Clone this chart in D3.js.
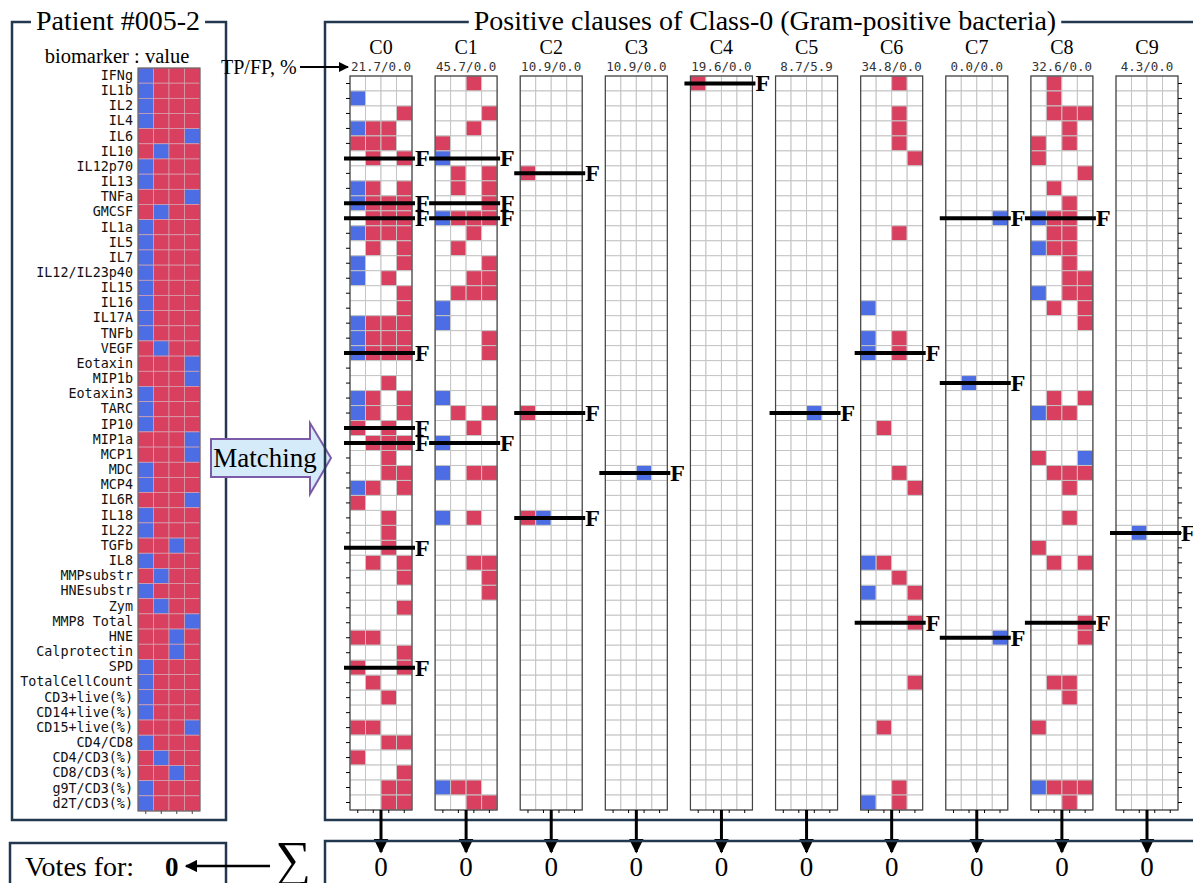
<!DOCTYPE html>
<html lang="en">
<head>
<meta charset="utf-8">
<script src="https://cdn.jsdelivr.net/npm/d3@7"></script>
<style>
  body { margin: 0; background: #fff; }
  svg { display: block; }
</style>
</head>
<body>
<script>
// ---- data ----
var biomarkers = ["IFNg", "IL1b", "IL2", "IL4", "IL6", "IL10", "IL12p70", "IL13", "TNFa", "GMCSF",
  "IL1a", "IL5", "IL7", "IL12/IL23p40", "IL15", "IL16", "IL17A", "TNFb", "VEGF", "Eotaxin",
  "MIP1b", "Eotaxin3", "TARC", "IP10", "MIP1a", "MCP1", "MDC", "MCP4", "IL6R", "IL18",
  "IL22", "TGFb", "IL8", "MMPsubstr", "HNEsubstr", "Zym", "MMP8 Total", "HNE", "Calprotectin", "SPD",
  "TotalCellCount", "CD3+live(%)", "CD14+live(%)", "CD15+live(%)", "CD4/CD8", "CD4/CD3(%)", "CD8/CD3(%)", "g9T/CD3(%)", "d2T/CD3(%)"];

// quartile bin (0..3) of the patient's value for every biomarker
var patientBins = [0, 0, 0, 0, 3, 1, 0, 0, 3, 1,
  0, 0, 0, 0, 0, 0, 0, 0, 1, 3,
  3, 0, 0, 0, 3, 3, 0, 0, 3, 0,
  0, 2, 0, 1, 0, 1, 3, 2, 2, 0,
  0, 0, 0, 3, 0, 1, 2, 0, 0];

var bins = [0, 1, 2, 3];
var clauseNames = ["C0", "C1", "C2", "C3", "C4", "C5", "C6", "C7", "C8", "C9"];
var tpfp = ["21.7/0.0", "45.7/0.0", "10.9/0.0", "10.9/0.0", "19.6/0.0", "8.7/5.9", "34.8/0.0", "0.0/0.0", "32.6/0.0", "4.3/0.0"];
var clauseVotes = [0, 0, 0, 0, 0, 0, 0, 0, 0, 0];
var votesFor = 0;

// clause literals: "b" = value in bin, "r" = value not in bin
var clauseC0 = [["IL1b", "b..."], ["IL2", "...r"], ["IL4", "brr."], ["IL6", "rrr."], ["IL10", ".r.r"],
  ["IL13", "br.r"], ["TNFa", "brrr"], ["GMCSF", ".rrr"], ["IL1a", "brrr"], ["IL5", ".r.r"],
  ["IL7", "b..r"], ["IL12/IL23p40", "b.r."], ["IL15", "...r"], ["IL16", "...r"], ["IL17A", "brrr"],
  ["TNFb", "brrr"], ["VEGF", "brrr"], ["MIP1b", "..r."], ["Eotaxin3", "br.r"], ["TARC", "br.r"],
  ["IP10", "r.r."], ["MIP1a", ".rrr"], ["MCP1", "..r."], ["MDC", "..rr"], ["MCP4", "br.r"],
  ["IL6R", "r..."], ["IL18", "..r."], ["IL22", "..r."], ["TGFb", "..r."], ["IL8", ".r.r"],
  ["MMPsubstr", "...r"], ["Zym", "...r"], ["HNE", "rr.."], ["Calprotectin", "...r"], ["SPD", "r..r"],
  ["TotalCellCount", ".r.."], ["CD3+live(%)", "..r."], ["CD15+live(%)", "rr.."], ["CD4/CD8", "..rr"],
  ["CD4/CD3(%)", "r..."], ["CD8/CD3(%)", "...r"], ["g9T/CD3(%)", "..rr"], ["d2T/CD3(%)", "..rr"]];
var clauseC1 = [["IFNg", "..r."], ["IL2", "...r"], ["IL4", "..r."], ["IL6", "r..."], ["IL10", "b..."],
  ["IL12p70", ".r.r"], ["IL13", ".r.r"], ["TNFa", "...r"], ["GMCSF", "brrr"], ["IL1a", "..r."],
  ["IL5", ".r.."], ["IL7", "...r"], ["IL12/IL23p40", "..rr"], ["IL15", ".rrr"], ["IL16", "b..."],
  ["IL17A", "b..."], ["TNFb", "...r"], ["VEGF", "...r"], ["Eotaxin3", "b..."], ["TARC", ".r.r"],
  ["IP10", "..r."], ["MIP1a", "b..."], ["MDC", "b.rr"], ["IL18", "b.r."], ["IL8", "..rr"],
  ["MMPsubstr", "...r"], ["HNEsubstr", "...r"], ["g9T/CD3(%)", "brr."], ["d2T/CD3(%)", "..rr"]];
var clauseC2 = [["IL12p70", "r..."], ["TARC", "r..."], ["IL18", "rb.."]];
var clauseC3 = [["MDC", "..b."]];
var clauseC4 = [["IFNg", "r..."]];
var clauseC5 = [["TARC", "..b."]];
var clauseC6 = [["IFNg", "..r."], ["IL2", "..r."], ["IL4", "..r."], ["IL6", "..r."], ["IL10", "...r"],
  ["IL1a", "..r."], ["IL16", "b..."], ["TNFb", "b.r."], ["VEGF", "b.r."], ["IP10", ".r.."],
  ["MDC", "..r."], ["MCP4", "...r"], ["IL8", "br.."], ["MMPsubstr", "..r."], ["HNEsubstr", "b..r"],
  ["MMP8 Total", "...r"], ["TotalCellCount", "...r"], ["CD15+live(%)", ".r.."], ["g9T/CD3(%)", "..r."],
  ["d2T/CD3(%)", "b.r."]];
var clauseC7 = [["GMCSF", "...b"], ["MIP1b", ".b.."], ["HNE", "...b"]];
var clauseC8 = [["IFNg", ".r.."], ["IL1b", ".r.."], ["IL2", ".rrr"], ["IL4", "..r."], ["IL6", "r.r."],
  ["IL10", "r..."], ["IL12p70", "...r"], ["IL13", ".r.."], ["TNFa", "..r."], ["GMCSF", "brr."],
  ["IL1a", ".rr."], ["IL5", "brr."], ["IL7", "..r."], ["IL12/IL23p40", "..rr"], ["IL15", "b.rr"],
  ["IL16", ".r.r"], ["IL17A", "...r"], ["Eotaxin3", ".r.r"], ["TARC", "brr."], ["MCP1", "r..b"],
  ["MDC", ".rrr"], ["MCP4", "..r."], ["IL18", "..r."], ["TGFb", "r..."], ["IL8", ".r.r"],
  ["MMP8 Total", "...r"], ["HNE", "...r"], ["TotalCellCount", ".rr."], ["CD3+live(%)", "..r."],
  ["CD15+live(%)", "r..."], ["g9T/CD3(%)", "brrr"], ["d2T/CD3(%)", "..r."]];
var clauseC9 = [["IL22", ".b.."]];
var clauses = [clauseC0, clauseC1, clauseC2, clauseC3, clauseC4, clauseC5, clauseC6, clauseC7, clauseC8, clauseC9];

// rows marked "F" (literal not satisfied by the patient)
var failedRows = [
  ["IL10", "TNFa", "GMCSF", "VEGF", "IP10", "MIP1a", "TGFb", "SPD"],
  ["IL10", "TNFa", "GMCSF", "MIP1a"],
  ["IL12p70", "TARC", "IL18"],
  ["MDC"],
  ["IFNg"],
  ["TARC"],
  ["VEGF", "MMP8 Total"],
  ["GMCSF", "MIP1b", "HNE"],
  ["GMCSF", "MMP8 Total"],
  ["IL22"]];

// ---- drawing ----
var W = 1193, H = 883;
var RED = "#d9405f", BLUE = "#4c6de3", FRAME = "#22384f";
var SERIF = "'Liberation Serif', 'Times New Roman', serif";
var MONO = "'DejaVu Sans Mono', monospace";

var svg = d3.select("body").append("svg")
    .attr("width", W)
    .attr("height", H)
    .style("background", "#fff");

svg.append("defs").append("marker")
    .attr("id", "head")
    .attr("viewBox", "0 0 10 10")
    .attr("refX", 9).attr("refY", 5)
    .attr("markerWidth", 5).attr("markerHeight", 5)
    .attr("markerUnits", "strokeWidth")
    .attr("orient", "auto")
  .append("path").attr("d", "M0,0L10,5L0,10z").attr("fill", "#000");

// frame with a title sitting in its top edge
function titledBox(x, y, w, h, title, tx, size) {
  svg.append("rect")
      .attr("x", x).attr("y", y).attr("width", w).attr("height", h)
      .attr("fill", "none").attr("stroke", FRAME).attr("stroke-width", 2.5);
  if (!title) return;
  var bg = svg.append("rect").attr("fill", "#fff");
  var t = svg.append("text")
      .attr("x", tx).attr("y", y + 8)
      .attr("text-anchor", "middle")
      .style("font-family", SERIF).style("font-size", size + "px")
      .text(title);
  var bb = t.node().getBBox();
  bg.attr("x", bb.x - 5).attr("y", y - 3).attr("width", bb.width + 10).attr("height", 6);
}

// ----- patient panel -----
titledBox(12, 22, 214, 798, "Patient #005-2", 118, 28);
svg.append("text")
    .attr("x", 117).attr("y", 63)
    .attr("text-anchor", "middle")
    .style("font-family", SERIF).style("font-size", "20.5px")
    .text("biomarker : value");

var yL = d3.scaleBand().domain(biomarkers).range([68, 811]);
var xL = d3.scaleBand().domain(bins).range([138, 200]);

var pCells = [];
biomarkers.forEach(function (b, i) {
  bins.forEach(function (c) { pCells.push({ b: b, c: c, hit: patientBins[i] === c }); });
});
var gL = svg.append("g");
gL.selectAll("rect").data(pCells).enter().append("rect")
    .attr("x", function (d) { return xL(d.c); })
    .attr("y", function (d) { return yL(d.b); })
    .attr("width", xL.bandwidth())
    .attr("height", yL.bandwidth())
    .attr("fill", function (d) { return d.hit ? BLUE : RED; })
    .attr("stroke", "#d6a3b0").attr("stroke-width", 0.7);
gL.append("rect")
    .attr("x", 138).attr("y", 68).attr("width", 62).attr("height", 743)
    .attr("fill", "none").attr("stroke", "#555").attr("stroke-width", 1);

var axL = svg.append("g").attr("transform", "translate(138,0)")
    .call(d3.axisLeft(yL).tickSize(0).tickPadding(5));
axL.select(".domain").remove();
axL.selectAll("text").style("font-family", MONO).style("font-size", "13.4px").attr("fill", "#111");
var axLb = svg.append("g").attr("transform", "translate(0,811)")
    .call(d3.axisBottom(xL).tickSize(3).tickFormat(""));
axLb.select(".domain").remove();
axLb.selectAll("line").attr("stroke", "#444");

// ----- matching arrow -----
svg.append("path")
    .attr("d", "M211,439L310,439L310,423L331,458L310,494L310,477L211,477Z")
    .attr("fill", "#d5ebfa").attr("stroke", "#7b5aa8").attr("stroke-width", 2);
svg.append("text")
    .attr("x", 265).attr("y", 467)
    .attr("text-anchor", "middle")
    .style("font-family", SERIF).style("font-size", "27px")
    .text("Matching");

// ----- clauses panel -----
titledBox(325, 22, 900, 798, "Positive clauses of Class-0 (Gram-positive bacteria)", 765, 28);

svg.append("text")
    .attr("x", 221).attr("y", 74)
    .style("font-family", SERIF).style("font-size", "20px")
    .text("TP/FP, %");
svg.append("line")
    .attr("x1", 300).attr("y1", 67).attr("x2", 348).attr("y2", 67)
    .attr("stroke", "#000").attr("stroke-width", 2)
    .attr("marker-end", "url(#head)");

var xClause = d3.scalePoint().domain(clauseNames).range([350, 1116]);
var yC = d3.scaleBand().domain(biomarkers).range([76, 810]);
var CW = 62;

clauseNames.forEach(function (name, k) {
  var gx = xClause(name);
  var xC = d3.scaleBand().domain(bins).range([gx, gx + CW]);
  var lits = new Map(clauses[k]);
  var cells = [];
  biomarkers.forEach(function (b) {
    var p = lits.get(b) || "....";
    bins.forEach(function (c) { cells.push({ b: b, c: c, v: p[c] }); });
  });

  var g = svg.append("g");
  g.selectAll("rect.cell").data(cells).enter().append("rect")
      .attr("class", "cell")
      .attr("x", function (d) { return xC(d.c); })
      .attr("y", function (d) { return yC(d.b); })
      .attr("width", xC.bandwidth())
      .attr("height", yC.bandwidth())
      .attr("fill", function (d) { return d.v === "r" ? RED : d.v === "b" ? BLUE : "#fff"; })
      .attr("stroke", "#c4c4c4").attr("stroke-width", 1);
  g.append("rect")
      .attr("x", gx).attr("y", 76).attr("width", CW).attr("height", 734)
      .attr("fill", "none").attr("stroke", "#444").attr("stroke-width", 1.2);

  var axb = g.append("g").attr("transform", "translate(0,810)")
      .call(d3.axisBottom(xC).tickSize(3).tickFormat(""));
  axb.select(".domain").remove();
  if (k === 0 || k === clauseNames.length - 1) {
    var side = k === 0 ? d3.axisLeft(yC) : d3.axisRight(yC);
    var axs = g.append("g").attr("transform", "translate(" + (k === 0 ? gx : gx + CW) + ",0)")
        .call(side.tickSize(4).tickFormat(""));
    axs.select(".domain").remove();
  }

  g.append("text")
      .attr("x", gx + CW / 2).attr("y", 54)
      .attr("text-anchor", "middle")
      .style("font-family", SERIF).style("font-size", "20px")
      .text(name);
  g.append("text")
      .attr("x", gx + CW / 2).attr("y", 71)
      .attr("text-anchor", "middle")
      .style("font-family", MONO).style("font-size", "12.5px").attr("fill", "#333")
      .text(tpfp[k]);

  // failed literals
  failedRows[k].forEach(function (b) {
    var yy = yC(b) + yC.bandwidth() / 2;
    g.append("line")
        .attr("x1", gx - 6).attr("x2", gx + CW + 3)
        .attr("y1", yy).attr("y2", yy)
        .attr("stroke", "#000").attr("stroke-width", 4);
    g.append("text")
        .attr("x", gx + CW + 3).attr("y", yy + 8)
        .style("font-family", SERIF).style("font-size", "24px").style("font-weight", "bold")
        .text("F");
  });

  // arrow to the vote row
  g.append("line")
      .attr("x1", gx + CW / 2).attr("x2", gx + CW / 2)
      .attr("y1", 810).attr("y2", 852)
      .attr("stroke", "#000").attr("stroke-width", 3)
      .attr("marker-end", "url(#head)");
  g.append("text")
      .attr("x", gx + CW / 2).attr("y", 876)
      .attr("text-anchor", "middle")
      .style("font-family", SERIF).style("font-size", "27px")
      .text(clauseVotes[k]);
});

// ----- votes row -----
svg.append("rect")
    .attr("x", 325).attr("y", 841).attr("width", 900).attr("height", 60)
    .attr("fill", "none").attr("stroke", FRAME).attr("stroke-width", 2.5);
svg.append("rect")
    .attr("x", 10).attr("y", 843).attr("width", 216).attr("height", 60)
    .attr("fill", "none").attr("stroke", FRAME).attr("stroke-width", 2.5);
svg.append("text")
    .attr("x", 25).attr("y", 876)
    .style("font-family", SERIF).style("font-size", "28px")
    .text("Votes for:");
svg.append("text")
    .attr("x", 165).attr("y", 876)
    .style("font-family", SERIF).style("font-size", "27px").style("font-weight", "bold")
    .text(votesFor);
svg.append("text")
    .attr("x", 293).attr("y", 876)
    .attr("text-anchor", "middle")
    .style("font-family", SERIF).style("font-size", "50px")
    .text("\u2211");
svg.append("line")
    .attr("x1", 270).attr("y1", 866).attr("x2", 186).attr("y2", 866)
    .attr("stroke", "#000").attr("stroke-width", 2.5)
    .attr("marker-end", "url(#head)");
</script>
</body>
</html>
